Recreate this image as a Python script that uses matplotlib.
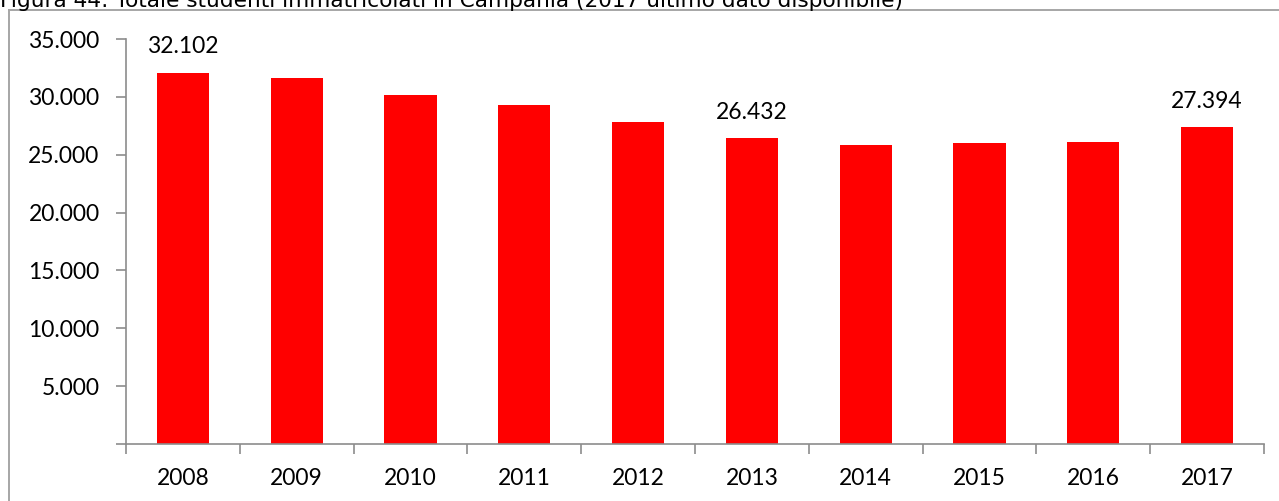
import matplotlib.pyplot as plt
from matplotlib.lines import Line2D
from matplotlib.ticker import FuncFormatter
import numpy as np

years = ['2008', '2009', '2010', '2011', '2012', '2013', '2014', '2015', '2016', '2017']
immatricolati = [32102, 31630, 30180, 29290, 27830, 26432, 25840, 26030, 26100, 27394]
labelled = ['2008', '2013', '2017']

title = 'Figura 44: Totale studenti immatricolati in Campania (2017 ultimo dato disponibile)'


def thousands(v, pos):
    if v == 0:
        return ''
    return f'{int(v):,}'.replace(',', '.')


def main():
    plt.rcParams['font.family'] = ['Lato', 'DejaVu Sans']
    plt.rcParams['font.size'] = 16.5

    fig = plt.figure(figsize=(12.79, 5.01), dpi=100)
    ax = fig.add_axes([126 / 1279, 1 - 444 / 501, (1264 - 126) / 1279, (444 - 39) / 501])

    x = np.arange(len(years))
    ax.bar(x, immatricolati, width=0.46, color='#ff0000')

    for xi, yr, val in zip(x, years, immatricolati):
        if yr in labelled:
            ax.annotate(thousands(val, None), (xi, val), xytext=(0, 11),
                        textcoords='offset points', ha='center', va='bottom',
                        fontsize=16.5, color='black')

    ax.set_xlim(-0.5, len(years) - 0.5)
    ax.set_ylim(0, 35000)
    ax.set_yticks(np.arange(0, 35001, 5000))
    ax.yaxis.set_major_formatter(FuncFormatter(thousands))

    ax.set_xticks(x)
    ax.set_xticklabels(years)
    ax.set_xticks(np.arange(-0.5, len(years), 1), minor=True)
    ax.tick_params(axis='x', which='major', length=0, pad=17)
    ax.tick_params(axis='x', which='minor', length=7, width=1.2, color='#8c8c8c', direction='out')
    ax.tick_params(axis='y', length=7, width=1.2, color='#8c8c8c', pad=12)

    for side in ['top', 'right']:
        ax.spines[side].set_visible(False)
    for side in ['left', 'bottom']:
        ax.spines[side].set_color('#8c8c8c')
        ax.spines[side].set_linewidth(1.2)

    # frame around the chart area
    fig.add_artist(Line2D([8.5 / 1279, 8.5 / 1279], [0, 1 - 9.5 / 501],
                          color='#a6a6a6', lw=1.4, transform=fig.transFigure))
    fig.add_artist(Line2D([8.5 / 1279, 1], [1 - 9.5 / 501, 1 - 9.5 / 501],
                          color='#a6a6a6', lw=1.4, transform=fig.transFigure))

    fig.text(0, 1 - 7 / 501, title, ha='left', va='baseline', fontsize=15.6,
             family='DejaVu Sans')

    fig.savefig('out.png', dpi=100)


if __name__ == '__main__':
    main()
